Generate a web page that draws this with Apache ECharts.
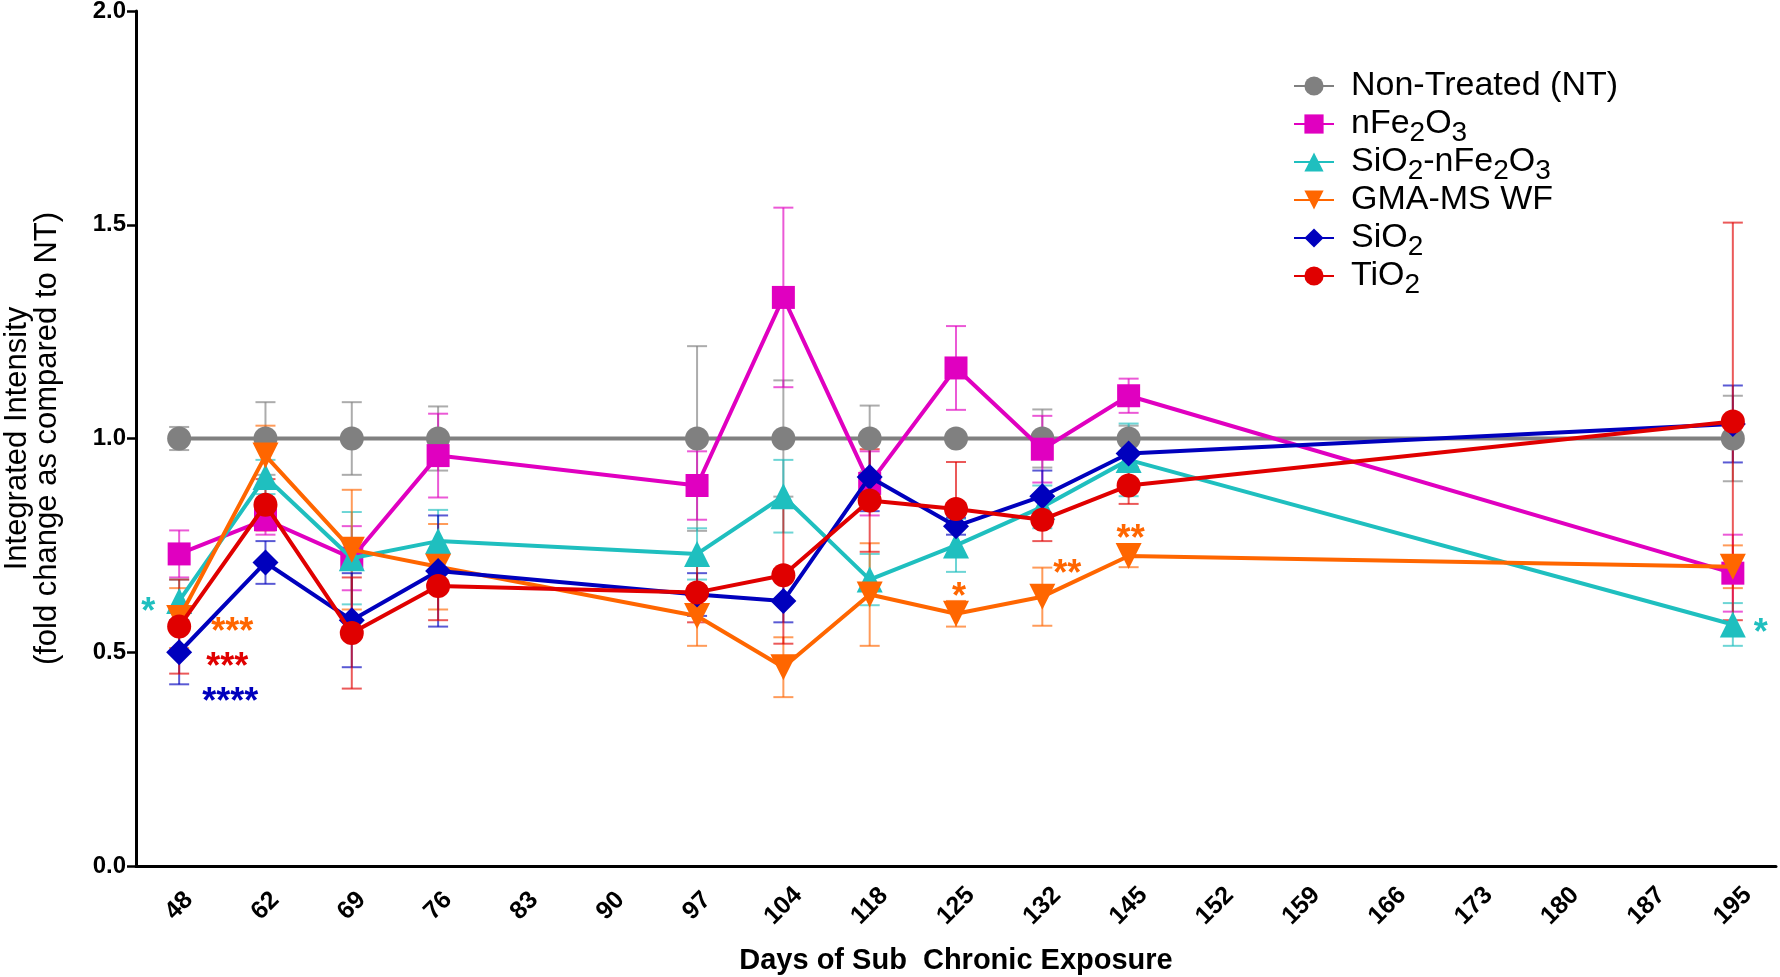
<!DOCTYPE html>
<html>
<head>
<meta charset="utf-8">
<script src="https://cdn.jsdelivr.net/npm/echarts@6/dist/echarts.min.js"></script>
<style>
  html, body { margin: 0; padding: 0; background: #fff; }
  #chart { width: 1780px; height: 977px; }
</style>
</head>
<body>
<div id="chart"></div>
<script>
'use strict';
// days on x axis (categories, evenly spaced)
var days = ['48', '62', '69', '76', '83', '90', '97', '104', '118', '125', '132', '145',
	'152', '159', '166', '173', '180', '187', '195'];
var yTicks = [0, 0.5, 1.0, 1.5, 2.0];
var N = null;

// mean fold change and error per group
var ntMean = [1, 1, 1, 1, N, N, 1, 1, 1, 1, 1, 1, N, N, N, N, N, N, 1];
var ntErr = [0.027, 0.085, 0.085, 0.075, N, N, 0.216, 0.136, 0.077, 0.01, 0.068, 0.03, N, N, N, N, N, N, 0.1];

var feMean = [0.73, 0.81, 0.72, 0.96, N, N, 0.89, 1.33, 0.895, 1.165, 0.975, 1.10, N, N, N, N, N, N, 0.685];
var feErr = [0.055, 0.035, 0.075, 0.098, N, N, 0.08, 0.21, 0.075, 0.098, 0.078, 0.04, N, N, N, N, N, N, 0.09];

var siFeMean = [0.62, 0.91, 0.72, 0.76, N, N, 0.73, 0.865, 0.67, 0.75, 0.84, 0.95, N, N, N, N, N, N, 0.565];
var siFeErr = [0.05, 0.04, 0.108, 0.073, N, N, 0.06, 0.085, 0.06, 0.062, 0.05, 0.085, N, N, N, N, N, N, 0.05];

var gmaMean = [0.58, 0.96, 0.74, 0.70, N, N, 0.585, 0.465, 0.635, 0.59, 0.63, 0.725, N, N, N, N, N, N, 0.70];
var gmaErr = [0.07, 0.07, 0.14, 0.10, N, N, 0.07, 0.07, 0.12, 0.03, 0.068, 0.026, N, N, N, N, N, N, 0.05];

var sio2Mean = [0.50, 0.71, 0.575, 0.69, N, N, 0.635, 0.62, 0.91, 0.795, 0.865, 0.965, N, N, N, N, N, N, 1.034];
var sio2Err = [0.075, 0.05, 0.11, 0.13, N, N, 0.05, 0.05, 0.08, 0.02, 0.06, 0.04, N, N, N, N, N, N, 0.09];

var tio2Mean = [0.56, 0.845, 0.545, 0.655, N, N, 0.64, 0.68, 0.855, 0.835, 0.81, 0.89, N, N, N, N, N, N, 1.04];
var tio2Err = [0.11, 0.06, 0.13, 0.08, N, N, 0.07, 0.16, 0.12, 0.11, 0.05, 0.043, N, N, N, N, N, N, 0.465];

// significance marks: [category index, value, text, colour, pixel shift]
var stars = [
	[0, 0.615, '*', '#1fbfbf', -31],
	[0, 0.568, '***', '#ff6600', 53],
	[0, 0.487, '***', '#e00000', 48],
	[0, 0.405, '****', '#0000bd', 51],
	[9, 0.65, '*', '#ff6600', 3],
	[10, 0.705, '**', '#ff6600', 25],
	[11, 0.785, '**', '#ff6600', 2],
	[18, 0.565, '*', '#1fbfbf', 28]
];

var FONT = 'Liberation Sans';

var groups = [
	{ name: 'Non-Treated (NT)', label: 'Non-Treated (NT)', mean: ntMean, err: ntErr, color: '#808080', symbol: 'circle', size: 24, rot: 0 },
	{ name: 'nFe2O3', label: '{t|nFe}{s|2}{t|O}{s|3}', mean: feMean, err: feErr, color: '#e000c0', symbol: 'rect', size: 23, rot: 0 },
	{ name: 'SiO2-nFe2O3', label: '{t|SiO}{s|2}{t|-nFe}{s|2}{t|O}{s|3}', mean: siFeMean, err: siFeErr, color: '#1fbfbf', symbol: 'triangle', size: 26, rot: 0 },
	{ name: 'GMA-MS WF', label: 'GMA-MS WF', mean: gmaMean, err: gmaErr, color: '#ff6600', symbol: 'triangle', size: 26, rot: 180 },
	{ name: 'SiO2', label: '{t|SiO}{s|2}', mean: sio2Mean, err: sio2Err, color: '#0000bd', symbol: 'diamond', size: 26, rot: 0 },
	{ name: 'TiO2', label: '{t|TiO}{s|2}', mean: tio2Mean, err: tio2Err, color: '#e00000', symbol: 'circle', size: 24, rot: 0 }
];

function errorBars(g) {
	var rows = [];
	g.mean.forEach(function (m, i) {
		if (m !== null) rows.push([i, m, g.err[i]]);
	});
	return {
		type: 'custom',
		name: g.name + ' err',
		z: 1,
		data: rows,
		encode: { x: 0, y: 1 },
		renderItem: function (params, api) {
			var i = api.value(0), m = api.value(1), e = api.value(2);
			var top = api.coord([i, m + e]);
			var bot = api.coord([i, m - e]);
			var w = 10;
			var st = { stroke: g.color, lineWidth: 2, opacity: 0.65 };
			return {
				type: 'group',
				children: [
					{ type: 'line', shape: { x1: top[0], y1: top[1], x2: bot[0], y2: bot[1] }, style: st },
					{ type: 'line', shape: { x1: top[0] - w, y1: top[1], x2: top[0] + w, y2: top[1] }, style: st },
					{ type: 'line', shape: { x1: bot[0] - w, y1: bot[1], x2: bot[0] + w, y2: bot[1] }, style: st }
				]
			};
		}
	};
}

var series = [];
groups.forEach(function (g) { series.push(errorBars(g)); });
groups.forEach(function (g, k) {
	series.push({
		type: 'line',
		name: g.name,
		data: g.mean,
		connectNulls: true,
		z: 2 + k,
		symbol: g.symbol,
		symbolSize: g.size,
		symbolRotate: g.rot,
		lineStyle: { color: g.color, width: 4 },
		itemStyle: { color: g.color },
		emphasis: { disabled: true }
	});
});
series.push({
	type: 'custom',
	name: 'stars',
	z: 20,
	data: stars,
	encode: { x: 0, y: 1 },
	renderItem: function (params, api) {
		var p = api.coord([api.value(0), api.value(1)]);
		var s = stars[params.dataIndex];
		return {
			type: 'text',
			style: {
				x: p[0] + s[4], y: p[1] + 10,
				text: s[2], fill: s[3],
				font: 'bold 36px "' + FONT + '"',
				align: 'center', verticalAlign: 'middle'
			}
		};
	}
});

var labelMap = {};
groups.forEach(function (g) { labelMap[g.name] = g.label; });

var chart = echarts.init(document.getElementById('chart'));
chart.setOption({
	animation: false,
	textStyle: { fontFamily: FONT },
	grid: { left: 136, right: 4, top: 11, bottom: 111, outerBoundsMode: 'none', containLabel: false },
	legend: {
		orient: 'vertical',
		left: 1288,
		top: 58,
		itemWidth: 40,
		itemHeight: 24,
		itemGap: -8,
		data: groups.map(function (g) { return g.name; }),
		formatter: function (name) { return labelMap[name]; },
		textStyle: {
			fontFamily: FONT,
			fontSize: 34,
			lineHeight: 46,
			color: '#000',
			padding: [0, 0, 0, 12],
			rich: {
				t: { fontSize: 34, fontFamily: FONT, color: '#000', lineHeight: 46 },
				s: { fontSize: 28, fontFamily: FONT, color: '#000', lineHeight: 28, padding: [18, 0, 0, 0], verticalAlign: 'bottom' }
			}
		}
	},
	xAxis: {
		type: 'category',
		data: days,
		boundaryGap: true,
		name: 'Days of Sub  Chronic Exposure',
		nameLocation: 'middle',
		nameGap: 80,
		nameTextStyle: { fontSize: 29, fontWeight: 'bold', color: '#000', fontFamily: FONT },
		axisLine: { lineStyle: { color: '#000', width: 3 } },
		axisTick: { alignWithLabel: true, length: 9, lineStyle: { color: '#000', width: 2.5 } },
		axisLabel: { rotate: 45, fontSize: 25, fontWeight: 'bold', color: '#000', margin: 40, interval: 0,
			align: 'center', verticalAlign: 'middle' }
	},
	yAxis: {
		type: 'value',
		min: yTicks[0],
		max: yTicks[yTicks.length - 1],
		interval: 0.5,
		name: 'Integrated Intensity\n(fold change as compared to NT)',
		nameLocation: 'middle',
		nameGap: 74,
		nameRotate: 90,
		nameTextStyle: { fontSize: 31, lineHeight: 30, color: '#000', fontFamily: FONT },
		splitLine: { show: false },
		axisLine: { show: true, lineStyle: { color: '#000', width: 3 } },
		axisTick: { show: true, length: 9, lineStyle: { color: '#000', width: 2.5 } },
		axisLabel: { fontSize: 24, fontWeight: 'bold', color: '#000', margin: 10,
			formatter: function (v) { return v.toFixed(1); } }
	},
	series: series
});
</script>
</body>
</html>
